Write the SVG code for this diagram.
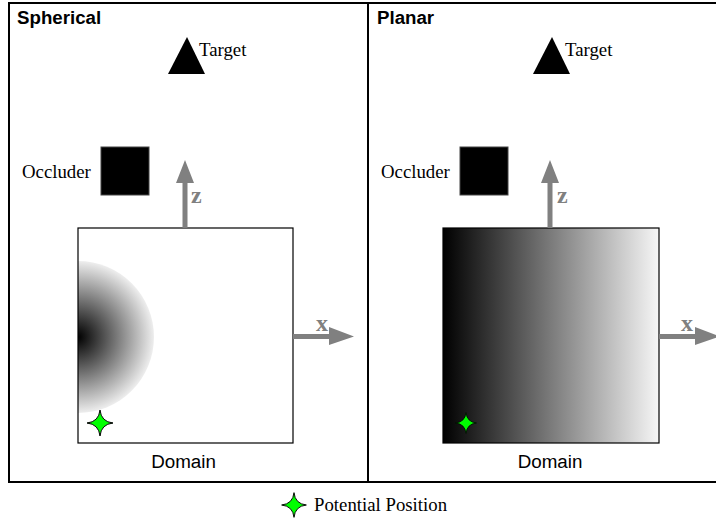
<svg xmlns="http://www.w3.org/2000/svg" width="716" height="519" viewBox="0 0 716 519">
  <defs>
    <style>
      .frame { fill: none; stroke: #000; stroke-width: 2; }
      .title { font-family: "Liberation Sans", Arial, sans-serif; font-weight: bold; font-size: 18.7px; fill: #000; }
      .label { font-family: "Liberation Serif", "Times New Roman", serif; font-size: 18.8px; fill: #000; }
      .axis-label { font-family: "Liberation Serif", "Times New Roman", serif; font-weight: bold; font-size: 24px; fill: #808080; }
      .domain-label { font-family: "Liberation Sans", Arial, sans-serif; font-size: 18.8px; fill: #000; }
      .box { stroke: #000; stroke-width: 1.2; }
      .axis { fill: #808080; stroke: none; }
      .star { fill: #00ff00; stroke: #000; stroke-width: 1; stroke-linejoin: round; }
      .occluder { fill: #000; stroke: #444; stroke-width: 1; }
    </style>
    <radialGradient id="sphereGrad" cx="78" cy="337" r="76" gradientUnits="userSpaceOnUse">
      <stop offset="0" stop-color="#000"/>
      <stop offset="0.5" stop-color="#777"/>
      <stop offset="1" stop-color="#eeeeee"/>
    </radialGradient>
    <linearGradient id="planeGrad" x1="443" y1="0" x2="659" y2="0" gradientUnits="userSpaceOnUse">
      <stop offset="0" stop-color="#000"/>
      <stop offset="1" stop-color="#f6f6f6"/>
    </linearGradient>
    <clipPath id="domainClip">
      <rect x="78" y="228" width="215" height="215"/>
    </clipPath>
    <path id="star4" d="M0,-13 Q1.2,-1.2 13,0 Q1.2,1.2 0,13 Q-1.2,1.2 -13,0 Q-1.2,-1.2 0,-13 Z"/>
  </defs>

  <rect x="0" y="0" width="716" height="519" fill="#fff"/>

  <!-- panel frames -->
  <g id="frames">
    <rect class="frame" x="9" y="3" width="359" height="479"/>
    <path class="frame" d="M368,3 H717 M368,482 H717"/>
  </g>

  <!-- spherical panel -->
  <g id="spherical">
    <text class="title" x="17" y="24">Spherical</text>
    <g id="target-left">
      <polygon points="187,37 205,74 168,74" fill="#000"/>
      <text class="label" x="199" y="56">Target</text>
    </g>
    <g id="occluder-left">
      <rect class="occluder" x="101" y="147" width="48" height="48"/>
      <text class="label" x="22" y="178">Occluder</text>
    </g>
    <g id="domain-left">
      <rect x="78" y="228" width="215" height="215" fill="#fff"/>
      <circle cx="78" cy="337" r="76" fill="url(#sphereGrad)" clip-path="url(#domainClip)"/>
      <rect class="box" x="78" y="228" width="215" height="215" fill="none"/>
      <text class="domain-label" x="183.5" y="468" text-anchor="middle">Domain</text>
    </g>
    <g id="star-left">
      <use href="#star4" class="star" transform="translate(100,423)"/>
    </g>
  </g>

  <!-- planar panel -->
  <g id="planar">
    <text class="title" x="377" y="24">Planar</text>
    <g id="target-right">
      <polygon points="552,37 570,74 533,74" fill="#000"/>
      <text class="label" x="565" y="56">Target</text>
    </g>
    <g id="occluder-right">
      <rect class="occluder" x="460" y="147" width="48" height="48"/>
      <text class="label" x="381" y="178">Occluder</text>
    </g>
    <g id="domain-right">
      <rect class="box" x="443" y="228" width="216" height="215" fill="url(#planeGrad)"/>
      <text class="domain-label" x="550" y="468" text-anchor="middle">Domain</text>
    </g>
    <g id="star-right">
      <use href="#star4" class="star" transform="translate(466,423) scale(0.8)"/>
    </g>
  </g>

  <!-- axis arrows -->
  <g id="connectors">
    <path class="axis" d="M182.5,228 V183 H176 L185,160 L194,183 H187.5 V228 Z"/>
    <text class="axis-label" x="191" y="203">z</text>
    <path class="axis" d="M293,334 H329 V327 L354,336.5 L329,345 V339 H293 Z"/>
    <text class="axis-label" x="316" y="331">x</text>

    <path class="axis" d="M547.5,228 V183 H541 L550,160 L559,183 H552.5 V228 Z"/>
    <text class="axis-label" x="557" y="203">z</text>
    <path class="axis" d="M659,334 H695 V327 L720,336.5 L695,345 V339 H659 Z"/>
    <text class="axis-label" x="681" y="331">x</text>
  </g>

  <!-- legend -->
  <g id="legend">
    <use href="#star4" class="star" transform="translate(294,505) scale(0.95)"/>
    <text class="label" x="314" y="511">Potential Position</text>
  </g>
</svg>
